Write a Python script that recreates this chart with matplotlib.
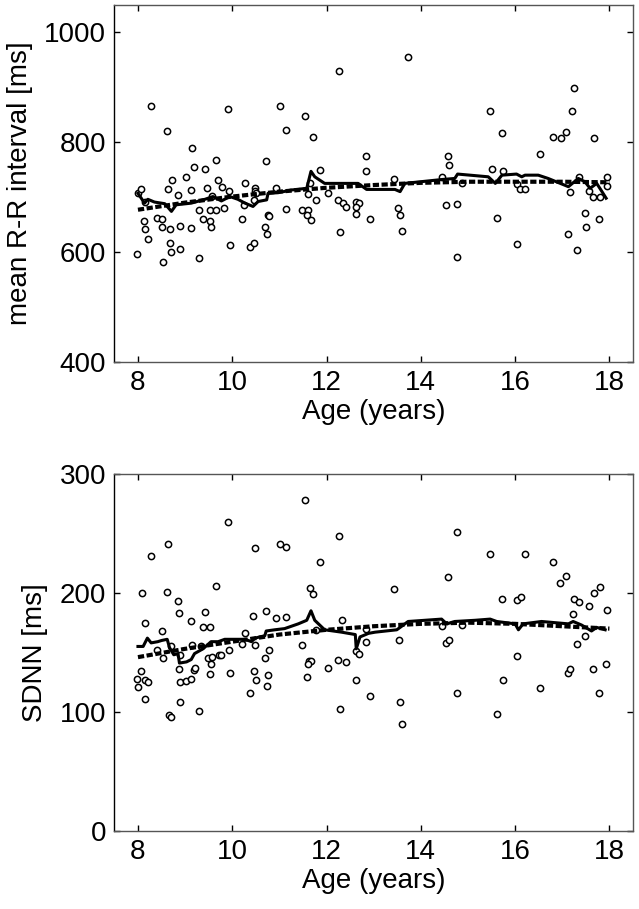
import matplotlib
matplotlib.use('Agg')
from matplotlib import pyplot as plt

plt.rcParams['font.family'] = ['Liberation Sans', 'DejaVu Sans']
plt.rc('font', size=20)

# ---- top panel: mean R-R interval ----
rr_age = [8.28, 8.62, 9.90, 9.15, 12.27, 11.01, 11.15, 11.55, 11.72, 10.71,
          9.65, 9.18, 9.42, 8.72, 9.01, 8.63, 9.12, 8.84, 9.46, 9.70,
          9.78, 9.93, 10.27, 10.48, 10.92, 11.86, 12.83, 12.83, 8.00, 8.06,
          12.03, 11.65, 9.57, 10.49, 10.51, 11.61, 11.77, 12.24, 12.34, 12.42,
          12.63, 12.68, 12.62, 12.62, 12.92, 12.29, 8.15, 8.13, 8.15, 8.22,
          7.99, 8.40, 8.50, 8.51, 8.67, 8.67, 8.70, 8.53, 8.89, 8.90,
          9.12, 9.30, 9.30, 9.38, 9.52, 9.66, 9.52, 9.55, 9.83, 9.95,
          10.20, 10.24, 10.37, 10.46, 10.69, 10.74, 10.75, 10.77, 11.14, 11.48,
          11.61, 11.58, 11.68, 10.46, 13.73, 15.46, 15.72, 17.25, 17.21, 17.07,
          16.80, 16.97, 17.68, 16.52, 14.58, 14.60, 15.50, 15.74, 13.44, 14.45,
          14.87, 16.03, 16.11, 16.20, 17.35, 17.17, 17.56, 17.94, 17.95, 17.65,
          17.80, 13.52, 13.56, 13.60, 14.53, 14.76, 14.77, 15.62, 16.03, 17.12,
          17.32, 17.49, 17.51, 17.78]
rr_val = [866, 820, 860, 789, 930, 866, 822, 848, 809, 766,
          767, 754, 751, 731, 736, 714, 713, 703, 717, 731,
          718, 711, 726, 717, 717, 750, 774, 747, 708, 714,
          707, 725, 702, 712, 707, 706, 694, 695, 690, 682,
          691, 690, 682, 669, 661, 637, 692, 657, 642, 624,
          596, 662, 660, 645, 642, 616, 600, 582, 648, 606,
          644, 677, 589, 660, 677, 677, 657, 646, 680, 613,
          660, 686, 609, 616, 645, 632, 668, 665, 678, 677,
          677, 667, 659, 695, 956, 856, 817, 898, 856, 819,
          809, 807, 808, 778, 775, 758, 751, 747, 733, 737,
          725, 724, 714, 715, 736, 709, 711, 736, 720, 700,
          700, 681, 667, 639, 686, 688, 590, 662, 615, 632,
          604, 671, 646, 660]

rr_avg_age = [8.00, 8.14, 8.21, 8.35, 8.57, 8.71, 8.81, 9.13, 9.42, 9.59,
              9.77, 9.95, 10.12, 10.27, 10.44, 10.55, 10.73, 10.76, 10.97, 11.26,
              11.58, 11.67, 11.75, 11.96, 12.32, 12.67, 12.85, 13.03, 13.45, 13.56,
              13.66, 14.44, 14.72, 14.78, 15.43, 15.58, 15.72, 16.03, 16.14, 16.21,
              16.49, 16.70, 17.13, 17.34, 17.48, 17.59, 17.73, 17.82, 17.93]
rr_avg = [707, 689, 696, 691, 688, 674, 686, 689, 696, 701,
          693, 701, 696, 689, 683, 692, 695, 707, 708, 713,
          716, 747, 737, 725, 725, 725, 714, 714, 714, 710,
          725, 732, 734, 742, 737, 725, 740, 742, 737, 740,
          740, 734, 719, 734, 728, 716, 725, 713, 698]

fit_age = [8, 9, 10, 11, 12, 13, 14, 15, 16, 17, 18]
rr_fit = [677, 690, 701, 710, 717, 722, 726, 728, 728, 728, 727]

# ---- bottom panel: SDNN ----
sd_age = [11.55, 9.90, 8.64, 8.28, 10.48, 11.01, 11.15, 12.27, 11.86, 9.65,
          8.08, 8.62, 11.65, 11.72, 8.84, 8.88, 9.42, 9.12, 8.15, 9.38,
          9.52, 8.50, 10.45, 10.71, 10.92, 11.14, 12.32, 10.28, 12.83, 11.78,
          8.40, 8.53, 8.71, 8.89, 9.15, 9.33, 9.48, 9.58, 9.54, 9.71,
          9.77, 9.93, 10.20, 10.48, 10.69, 10.78, 11.49, 11.62, 11.67, 11.61,
          12.25, 12.42, 12.03, 12.63, 12.68, 12.83, 8.06, 7.99, 8.14, 8.22,
          8.00, 8.14, 8.87, 9.18, 9.21, 8.90, 9.01, 9.12, 9.52, 9.95,
          10.47, 10.51, 10.75, 10.73, 10.37, 11.58, 12.62, 12.92, 8.89, 8.65,
          8.70, 9.30, 12.28, 14.76, 15.46, 16.20, 16.81, 17.07, 16.96, 17.80,
          17.68, 13.44, 14.58, 15.72, 16.04, 16.12, 17.25, 17.35, 17.56, 17.95,
          17.22, 14.45, 14.87, 13.53, 14.53, 14.60, 16.03, 17.49, 17.32, 15.74,
          17.65, 17.93, 17.13, 17.17, 14.77, 16.52, 17.78, 13.56, 13.60, 15.62]
sd_val = [278, 260, 241, 231, 238, 241, 239, 248, 226, 206,
          200, 201, 204, 199, 193, 183, 184, 176, 175, 171,
          171, 168, 181, 185, 179, 180, 177, 166, 170, 169,
          152, 145, 155, 148, 156, 155, 145, 146, 140, 148,
          148, 152, 157, 156, 145, 152, 156, 143, 143, 140,
          144, 142, 137, 151, 149, 159, 134, 128, 127, 125,
          121, 111, 136, 135, 137, 125, 126, 128, 132, 133,
          134, 127, 131, 122, 116, 129, 127, 113, 108, 97,
          96, 101, 102, 251, 233, 233, 226, 214, 208, 205,
          200, 203, 213, 195, 194, 197, 195, 192, 189, 186,
          182, 172, 173, 160, 158, 160, 147, 164, 157, 127,
          136, 140, 133, 136, 116, 120, 116, 108, 90, 98]

sd_avg_age = [8.00, 8.11, 8.20, 8.28, 8.42, 8.50, 8.62, 8.67, 8.76, 8.85,
              8.88, 9.03, 9.13, 9.20, 9.38, 9.55, 9.70, 9.84, 10.05, 10.27,
              10.41, 10.48, 10.69, 10.72, 10.90, 11.11, 11.40, 11.58, 11.67, 11.75,
              11.96, 12.32, 12.61, 12.63, 12.71, 12.89, 13.03, 13.49, 13.56, 13.73,
              14.44, 14.55, 14.72, 15.15, 15.47, 15.61, 16.00, 16.07, 16.17, 16.56,
              17.13, 17.23, 17.41, 17.62, 17.73, 17.91]
sd_avg = [155, 155, 162, 158, 159, 160, 161, 154, 148, 149,
          141, 142, 144, 149, 153, 159, 159, 161, 161, 161,
          159, 162, 164, 168, 169, 170, 174, 177, 185, 177,
          169, 167, 165, 153, 163, 166, 167, 169, 171, 176,
          178, 174, 176, 177, 178, 176, 174, 169, 174, 176,
          174, 176, 173, 168, 171, 169]

sd_fit = [146, 153, 159, 165, 169, 172, 174, 175, 174, 172, 170]

xticks = [8, 10, 12, 14, 16, 18]

fig = plt.figure(figsize=(6.39, 9.09), dpi=100)
ax1 = fig.add_axes([0.179, 0.602, 0.8116, 0.3925])
ax2 = fig.add_axes([0.179, 0.0861, 0.8116, 0.3924])

panels = [
    (ax1, rr_age, rr_val, rr_avg_age, rr_avg, rr_fit, (400, 1050), [400, 600, 800, 1000], "mean R-R interval [ms]"),
    (ax2, sd_age, sd_val, sd_avg_age, sd_avg, sd_fit, (0, 300), [0, 100, 200, 300], "SDNN [ms]"),
]

for ax, xs, ys, ax_, ay_, fy, ylim, yt, ylabel in panels:
    ax.plot(xs, ys, linestyle='none', marker='o', markersize=4.5,
            markerfacecolor='white', markeredgecolor='black', markeredgewidth=1.1, zorder=2)
    ax.plot(ax_, ay_, color='black', linewidth=2.2, zorder=3)
    ax.plot(fit_age, fy, color='black', linewidth=3, linestyle=(0, (1.5, 0.6)), zorder=4)
    ax.set_xlim(7.5, 18.5)
    ax.set_ylim(*ylim)
    ax.set_xticks(xticks)
    ax.set_yticks(yt)
    ax.set_xlabel("Age (years)", labelpad=2)
    ax.set_ylabel(ylabel, labelpad=8)
    ax.tick_params(direction='in', top=True, right=True, length=4, width=1, pad=6, labelsize=20)
    ax.spines['left'].set_color('black')
    for s in ['top', 'right', 'bottom']:
        ax.spines[s].set_color('#555555')
    for s in ax.spines.values():
        s.set_linewidth(1.0)

fig.savefig('out.png', dpi=100)
